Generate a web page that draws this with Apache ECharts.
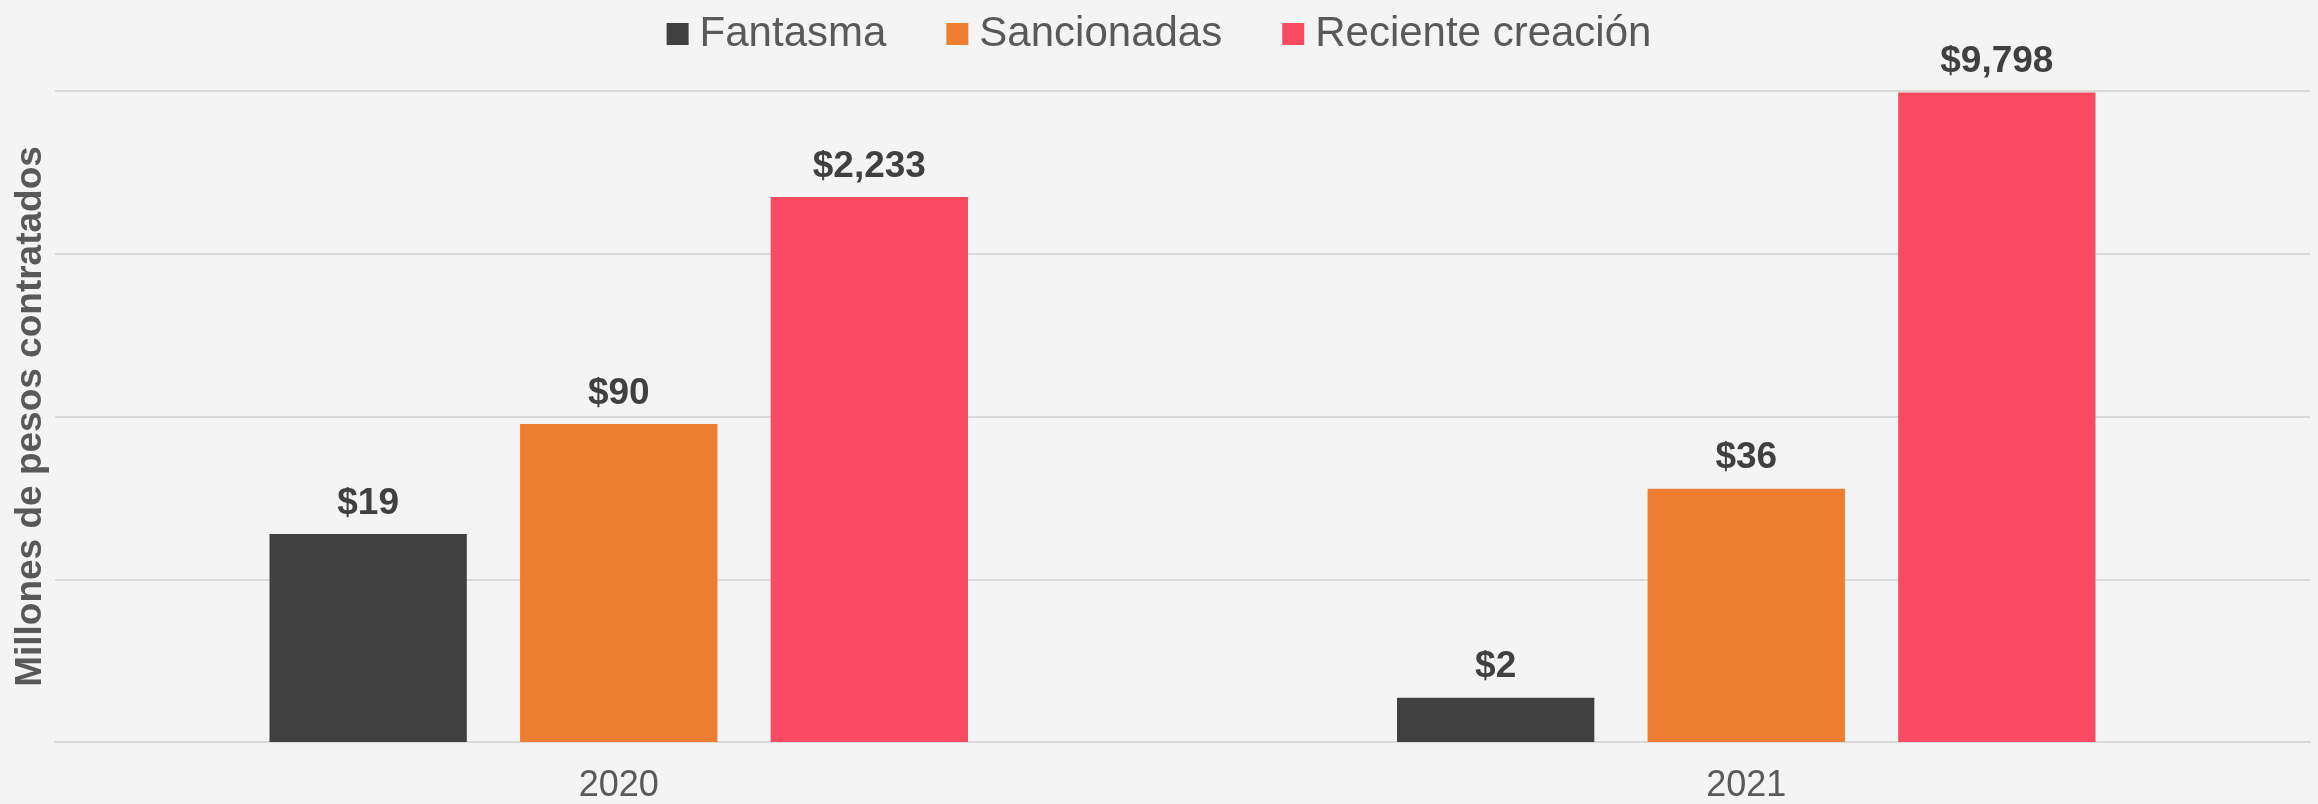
<!DOCTYPE html>
<html>
<head>
<meta charset="utf-8">
<style>
  html, body { margin: 0; padding: 0; background: #f4f4f4; }
  #chart { width: 2318px; height: 804px; }
</style>
<script src="https://cdn.jsdelivr.net/npm/echarts@6/dist/echarts.min.js"></script>
</head>
<body>
<div id="chart"></div>
<script>
const categories = ['2020', '2021'];
const seriesNames = ['Fantasma', 'Sancionadas', 'Reciente creación'];
const fantasma = [19, 1.87];
const sancionadas = [90, 36];
const recienteCreacion = [2233, 9798];
const colors = ['#404040', '#ED7D31', '#FA4A62'];
const yAxisTitle = 'Millones de pesos contratados';

const FONT = '"Liberation Sans", Arial, sans-serif';
const fmt = v => '$' + Math.round(v).toLocaleString('en-US');

function makeSeries(name, data, color) {
  return {
    name: name,
    type: 'bar',
    data: data,
    barWidth: '17.5%',
    barGap: '27%',
    itemStyle: { color: color },
    label: {
      show: true,
      position: 'top',
      distance: 12,
      formatter: p => fmt(p.value),
      fontFamily: FONT,
      fontSize: 37,
      fontWeight: 'bold',
      color: '#404040'
    }
  };
}

const chart = echarts.init(document.getElementById('chart'));
chart.setOption({
  backgroundColor: '#f4f4f4',
  animation: false,
  textStyle: { fontFamily: FONT },
  legend: {
    data: seriesNames,
    top: 8,
    left: 'center',
    icon: 'rect',
    itemWidth: 22,
    itemHeight: 22,
    itemGap: 60,
    textStyle: { fontFamily: FONT, fontSize: 42, color: '#595959', padding: [0, 0, 0, 6] }
  },
  grid: { left: 55, right: 8, top: 91, bottom: 62, containLabel: false },
  xAxis: {
    type: 'category',
    data: categories,
    axisTick: { show: false },
    axisLine: { show: true, lineStyle: { color: '#d9d9d9', width: 2 } },
    axisLabel: { fontFamily: FONT, fontSize: 36, color: '#595959', margin: 26 }
  },
  yAxis: {
    type: 'log',
    logBase: 10,
    min: 1,
    max: 10000,
    axisLabel: { show: false },
    axisTick: { show: false },
    axisLine: { show: false },
    splitLine: { show: true, lineStyle: { color: '#d9d9d9', width: 2 } },
    name: yAxisTitle,
    nameLocation: 'middle',
    nameGap: 6,
    nameTextStyle: { fontFamily: FONT, fontSize: 37, fontWeight: 'bold', color: '#595959' }
  },
  series: [
    makeSeries(seriesNames[0], fantasma, colors[0]),
    makeSeries(seriesNames[1], sancionadas, colors[1]),
    makeSeries(seriesNames[2], recienteCreacion, colors[2])
  ]
});
</script>
</body>
</html>
